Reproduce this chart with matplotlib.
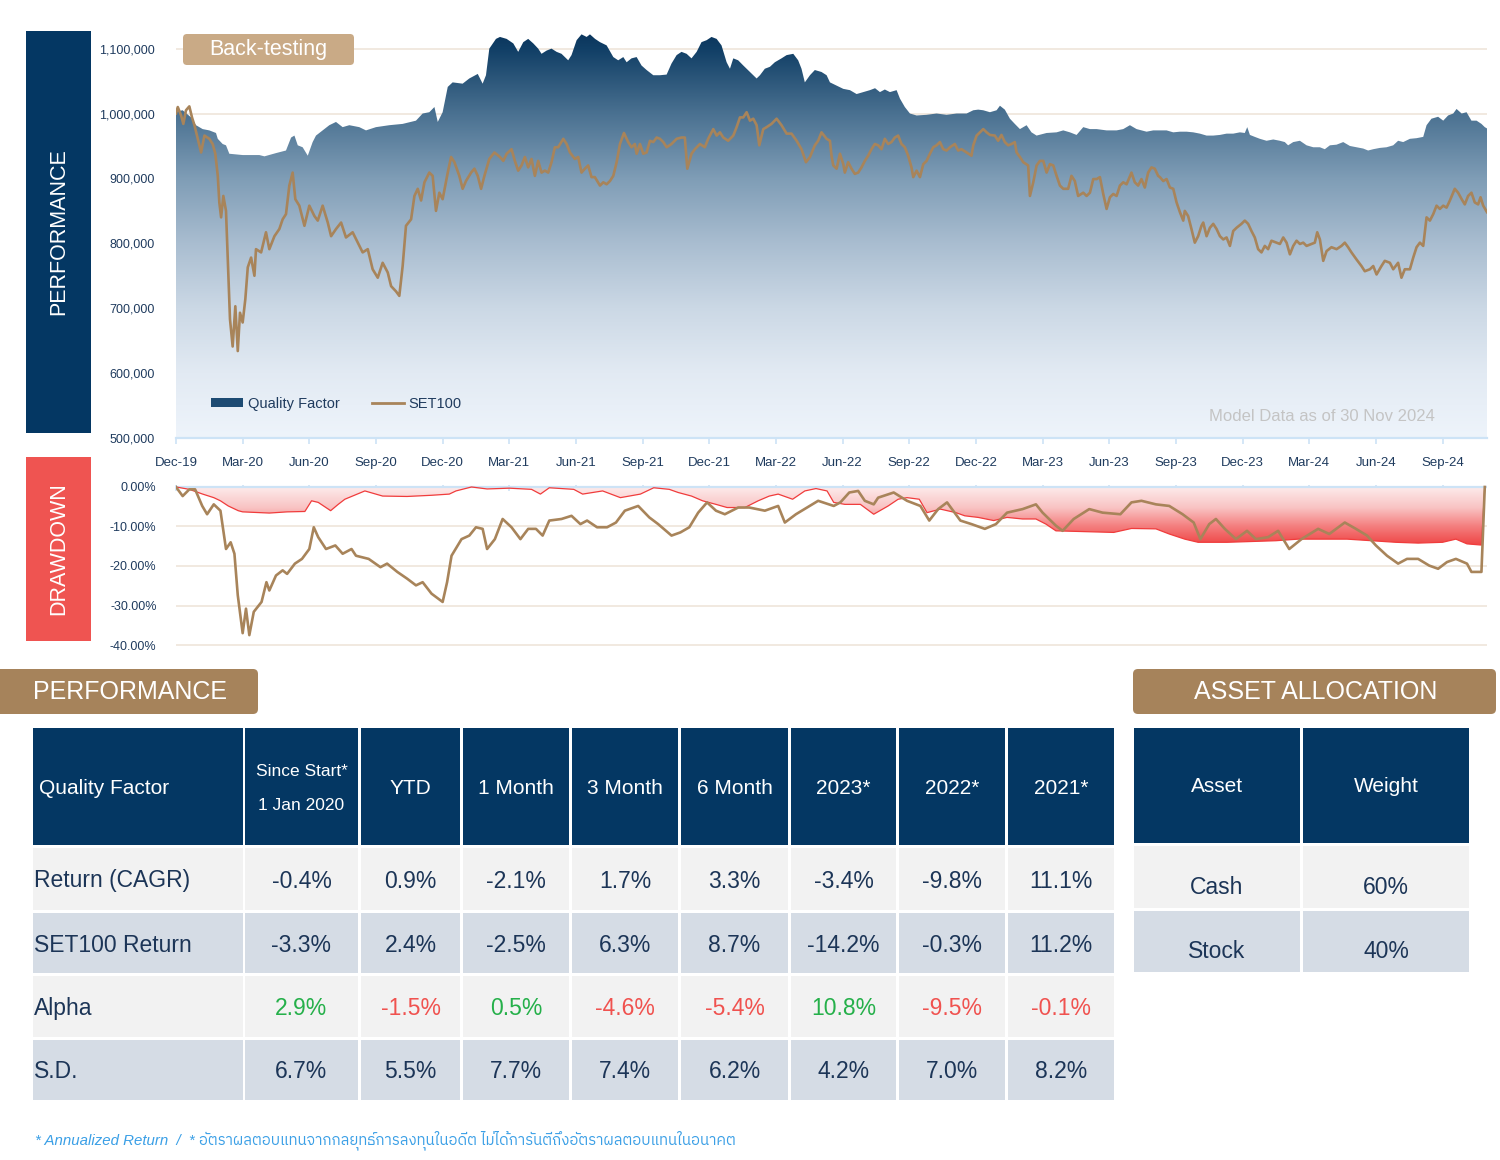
import numpy as np
import matplotlib
matplotlib.use("Agg")
import matplotlib.pyplot as plt
from matplotlib import font_manager as fm
from matplotlib.colors import LinearSegmentedColormap
from matplotlib.patches import Rectangle, FancyBboxPatch, Patch
from matplotlib.lines import Line2D
from matplotlib.ticker import FuncFormatter

# ---------------- fonts ----------------
names = {f.name for f in fm.fontManager.ttflist}
BASE = 'Liberation Sans' if 'Liberation Sans' in names else 'DejaVu Sans'
THAI = None
for f in fm.fontManager.ttflist:
    if 'thai' in f.name.lower():
        THAI = f.name
        break
if THAI is None:
    try:
        from matplotlib.ft2font import FT2Font
        for f in fm.fontManager.ttflist:
            if 'CJK' in f.name:
                continue
            try:
                if 0x0E2D in FT2Font(f.fname).get_charmap():
                    THAI = f.name
                    break
            except Exception:
                pass
    except Exception:
        pass
plt.rcParams['font.family'] = [BASE, 'DejaVu Sans']

# ---------------- data ----------------
tick_labels = ["Dec-19", "Mar-20", "Jun-20", "Sep-20", "Dec-20", "Mar-21", "Jun-21",
               "Sep-21", "Dec-21", "Mar-22", "Jun-22", "Sep-22", "Dec-22", "Mar-23",
               "Jun-23", "Sep-23", "Dec-23", "Mar-24", "Jun-24", "Sep-24"]

# x = months since end of Dec-2019; values in thousand THB
qf_month = [
    0, 0.3, 0.68, 0.9, 1.2, 1.5, 1.8, 1.88, 2.1, 2.25, 2.4, 3.0, 3.75, 3.98, 4.5, 4.95, 5.18,
    5.33, 5.48, 5.7, 5.93, 6.15, 6.3, 6.6, 6.9, 7.2, 7.5, 7.8, 8.25, 8.55, 9.0, 9.6, 10.2, 10.8,
    11.1, 11.4, 11.63, 11.78, 12.0, 12.23, 12.45, 12.9, 13.2, 13.58, 13.8, 13.95, 14.1, 14.4,
    14.58, 14.88, 15.18, 15.4, 15.63, 15.85, 16.08, 16.3, 16.45, 16.68, 16.9, 17.13, 17.35,
    17.65, 17.8, 18.03, 18.25, 18.48, 18.63, 18.86, 19.08, 19.38, 19.68, 19.9, 20.13, 20.28,
    20.5, 20.73, 20.95, 21.18, 21.48, 21.78, 22.08, 22.3, 22.53, 22.75, 22.98, 23.2, 23.43,
    23.65, 23.88, 24.1, 24.33, 24.55, 24.78, 24.93, 25.08, 25.3, 25.53, 25.83, 26.13, 26.28,
    26.5, 26.73, 26.95, 27.25, 27.48, 27.78, 28.0, 28.15, 28.3, 28.53, 28.75, 29.05, 29.28,
    29.43, 29.73, 30.03, 30.33, 30.63, 30.93, 31.23, 31.46, 31.68, 31.9, 32.13, 32.43, 32.58,
    32.8, 33.03, 33.33, 33.78, 34.23, 34.68, 35.13, 35.58, 35.88, 36.1, 36.33, 36.63, 36.93,
    37.08, 37.3, 37.53, 37.75, 37.98, 38.28, 38.5, 38.73, 39.18, 39.63, 39.93, 40.23, 40.53,
    40.83, 41.13, 41.43, 41.88, 42.33, 42.63, 42.93, 43.23, 43.68, 43.98, 44.28,
    44.58, 44.88, 45.18, 45.48, 45.78, 46.08, 46.38, 46.68, 46.98, 47.28, 47.58, 47.88, 48.1,
    48.21, 48.33, 48.55, 48.78, 49.08, 49.38, 49.68, 49.9, 50.05, 50.28, 50.58, 50.88, 51.18,
    51.48, 51.7, 51.93, 52.23, 52.53, 52.83, 53.13, 53.43, 53.65, 53.88, 54.18, 54.48, 54.78,
    55.0, 55.23, 55.53, 55.83, 56.13, 56.28, 56.5, 56.8, 57.03, 57.25, 57.48, 57.63, 57.86,
    58.08, 58.3, 58.53, 58.75, 58.9, 59.0]
qf_value = [
    1003, 1005, 994, 982, 976, 974, 970, 961, 953, 951, 938, 936, 936, 934, 939, 943, 963,
    966, 951, 948, 935, 956, 966, 974, 982, 987, 979, 982, 979, 974, 979, 982, 984, 989,
    1000, 1002, 1010, 987, 1002, 1041, 1048, 1046, 1054, 1061, 1046, 1059, 1100, 1115,
    1118, 1115, 1108, 1095, 1110, 1115, 1108, 1100, 1092, 1097, 1100, 1095, 1092,
    1082, 1090, 1113, 1122, 1118, 1122, 1115, 1110, 1105, 1087, 1082, 1087, 1079,
    1085, 1087, 1074, 1067, 1059, 1059, 1060, 1077, 1090, 1095, 1092, 1085, 1095,
    1110, 1113, 1118, 1115, 1105, 1079, 1069, 1085, 1082, 1074, 1064, 1054, 1059,
    1069, 1072, 1079, 1085, 1090, 1092, 1082, 1069, 1048, 1059, 1067, 1064, 1059,
    1048, 1043, 1038, 1036, 1030, 1033, 1036, 1039, 1033, 1037, 1033, 1036, 1023,
    1010, 1000, 997, 998, 1000, 998, 1000, 1000, 1005, 1006, 1005, 1002, 1005,
    1012, 1006, 992, 984, 976, 982, 971, 966, 970, 971, 974, 971, 967,
    979, 976, 976, 974, 974, 976, 982, 976, 972, 974, 974,
    974, 971, 972, 972, 971, 969, 966, 966, 967, 969, 969, 971, 970,
    979, 967, 964, 961, 958, 960, 958, 956, 951, 956, 958, 951, 948,
    948, 945, 951, 952, 956, 950, 948, 946, 943, 945, 947, 948, 951,
    958, 956, 961, 962, 964, 982, 992, 995, 989, 997, 1000, 1007, 1000,
    1002, 989, 989, 984, 979, 977]

set_month = [
    0, 0.08, 0.23, 0.33, 0.45, 0.6, 0.72, 0.83, 0.98, 1.13, 1.28, 1.5, 1.65, 1.77, 1.88, 1.95,
    2.03, 2.13, 2.25, 2.33, 2.43, 2.55, 2.67, 2.78, 2.88, 3.0, 3.12, 3.23, 3.38, 3.53, 3.6,
    3.83, 4.05, 4.2, 4.43, 4.65, 4.8, 4.95, 5.1, 5.25, 5.37, 5.55, 5.78, 6.0, 6.23, 6.38, 6.6,
    6.83, 6.98, 7.2, 7.43, 7.65, 7.95, 8.18, 8.4, 8.63, 8.85, 9.08, 9.3, 9.53, 9.68, 9.9,
    10.05, 10.2, 10.35, 10.58, 10.73, 10.88, 11.03, 11.18, 11.4, 11.55, 11.7, 11.85, 12.0,
    12.23, 12.38, 12.53, 12.75, 12.9, 13.05, 13.28, 13.43, 13.58, 13.73, 13.88, 14.1, 14.33,
    14.58, 14.73, 14.88, 15.1, 15.25, 15.4, 15.55, 15.7, 15.85, 16.0, 16.15, 16.3, 16.45,
    16.6, 16.75, 16.9, 17.05, 17.2, 17.43, 17.58, 17.73, 17.95, 18.1, 18.25, 18.4, 18.55,
    18.7, 18.85, 19.08, 19.23, 19.38, 19.53, 19.68, 19.83, 19.98, 20.16, 20.35, 20.5, 20.65,
    20.73, 20.88, 21.03, 21.18, 21.33, 21.48, 21.63, 21.78, 21.93, 22.08, 22.3, 22.53, 22.75,
    22.9, 23.01, 23.2, 23.35, 23.58, 23.8, 23.95, 24.18, 24.33, 24.48, 24.63, 24.85, 25.08,
    25.23, 25.38, 25.53, 25.68, 25.83, 25.98, 26.13, 26.25, 26.43, 26.58, 26.8, 27.03, 27.25,
    27.48, 27.7, 27.93, 28.15, 28.35, 28.53, 28.75, 28.9, 29.05, 29.28,
    29.43, 29.5, 29.58, 29.73, 29.88, 30.03, 30.1, 30.25, 30.4, 30.55, 30.7, 30.85, 31.0,
    31.15, 31.3, 31.45, 31.6, 31.75, 31.9, 32.05, 32.2, 32.35, 32.5, 32.65, 32.8, 32.95, 33.1,
    33.18, 33.33, 33.48, 33.63, 33.78, 33.93, 34.08, 34.23, 34.38, 34.53, 34.68, 34.83, 35.05,
    35.2, 35.35, 35.58, 35.8, 35.88, 36.03, 36.18, 36.33, 36.48, 36.63, 36.85, 37.0, 37.15,
    37.3, 37.45, 37.6, 37.75, 37.83, 37.98, 38.13, 38.35, 38.43, 38.58, 38.73, 38.88, 39.03,
    39.18, 39.33, 39.48, 39.63, 39.78, 39.93, 40.15, 40.3, 40.45, 40.6, 40.83, 40.98, 41.13,
    41.28, 41.43, 41.58, 41.73, 41.88, 42.03, 42.18, 42.33, 42.48, 42.63, 42.78, 43.0, 43.15,
    43.3, 43.45, 43.6, 43.75, 43.9, 44.05, 44.2,
    44.28, 44.43, 44.58, 44.73, 44.88, 45.03, 45.18, 45.33, 45.4, 45.55, 45.7, 45.85, 46.0,
    46.15, 46.23, 46.38, 46.53, 46.68, 46.83, 46.98, 47.13, 47.28, 47.43, 47.58, 47.73, 47.95,
    48.1, 48.25, 48.4, 48.55, 48.7, 48.85, 49.0, 49.15, 49.3, 49.53, 49.68, 49.83, 49.98,
    50.13, 50.28, 50.43, 50.58, 50.73, 50.88, 51.1, 51.25, 51.36, 51.48, 51.63, 51.78, 52.0,
    52.23, 52.45, 52.6, 52.75, 52.9, 53.13, 53.35, 53.5, 53.73, 53.88, 54.03, 54.25, 54.4,
    54.63, 54.78, 55.0, 55.15, 55.3, 55.53, 55.68, 55.83, 55.98, 56.13, 56.28, 56.43, 56.58,
    56.73, 56.88, 57.03, 57.18, 57.33, 57.55, 57.7, 57.86, 58.0, 58.15, 58.3, 58.45, 58.6,
    58.71, 58.83, 59.0]
set_value = [
    1000, 1010, 997, 984, 1005, 1011, 994, 982, 961, 940, 966, 961, 953, 938, 904, 863,
    840, 873, 850, 775, 683, 641, 703, 634, 693, 678, 714, 763, 778, 750, 791,
    786, 817, 791, 811, 822, 837, 845, 889, 909, 868, 858, 827, 858, 842, 835, 858,
    832, 811, 822, 832, 809, 817, 801, 786, 791, 760, 747, 770, 755, 734, 726,
    719, 765, 827, 837, 873, 884, 866, 894, 909, 904, 850, 878, 868,
    909, 933, 925, 904, 884, 896, 909, 915, 904, 884, 904, 930, 940,
    933, 927, 938, 945, 927, 912, 920, 933, 917, 930, 904, 927, 909,
    912, 909, 925, 948, 948, 961, 953, 940, 930, 933, 909, 915, 920,
    902, 902, 889, 894, 891, 896, 904, 925, 953, 970, 956, 948, 953,
    938, 953, 938, 940, 958, 956, 963, 961, 956, 948, 953, 961, 963,
    963, 915, 938, 945, 953, 948, 961, 976, 966, 971, 963, 958, 966,
    979, 994, 994, 1002, 989, 992, 982, 951, 976, 979, 984, 992, 982,
    969, 969, 958, 945, 925, 933, 951, 958, 971, 961,
    958, 935, 920, 915, 938, 922, 909, 925, 915, 907, 909, 917, 927,
    935, 945, 953, 951, 945, 961, 953, 956, 963, 966, 953, 948, 935, 917,
    902, 912, 902, 922, 927, 938, 948, 951, 956, 945, 943, 948, 953,
    943, 945, 940, 935, 951, 966, 971, 976, 971, 967, 966, 958, 967,
    956, 951, 953, 956, 940, 933, 925, 920, 873, 894, 920, 927, 927,
    909, 922, 920, 904, 889, 884, 884, 904, 896, 873, 878, 873, 878,
    899, 899, 902, 876, 853, 871, 876, 873, 889, 894, 891, 909, 894,
    889, 899, 886, 909, 917, 915, 904,
    902, 896, 899, 886, 884, 863, 848, 835, 850, 842, 822, 801, 811,
    827, 832, 811, 824, 830, 822, 811, 806, 809, 796, 819, 824, 830,
    835, 830, 819, 809, 791, 786, 796, 791, 804, 801, 799, 809, 801,
    783, 796, 804, 799, 801, 796, 799, 801, 817, 806, 773, 788, 794,
    791, 796, 801, 794, 786, 775, 765, 757, 760, 765, 752, 765, 773,
    770, 760, 770, 747, 760, 760, 778, 794, 801, 796, 840, 835, 845,
    858, 853, 858, 855, 866, 884, 878, 868, 860, 873, 878, 863, 860,
    871, 858, 848]

dd_qf_month = [0, 0.6, 1.2, 1.7, 2.0, 2.35, 2.8, 3.0, 4.2, 5.0, 5.8, 6.1, 6.4, 6.96, 7.3, 7.6,
               8.5, 9.3, 10.4, 11.5, 12.3, 12.6, 13.3, 14.0, 15.0, 16.0, 16.4, 16.8, 17.9,
               18.3, 19.2, 20.0, 20.9, 21.5, 22.2, 22.6, 23.2, 23.7, 24.3, 24.8, 25.6, 26.2,
               26.7, 27.1, 27.75, 28.3, 28.8, 29.3, 29.6, 30.1, 30.8, 31.4, 32.05, 32.5, 32.9,
               33.45, 33.8, 34.4, 35.1, 35.5, 36.1, 36.8, 37.4, 38.1, 38.7, 39.15, 39.6, 40.9,
               42.2, 43.0, 44.1, 44.7, 45.4, 46.0, 47.3, 48.4, 49.5, 50.5, 51.6, 52.7, 53.8,
               54.9, 55.9, 57.0, 57.6, 58.1, 58.75, 58.9]
dd_qf_value = [0, -0.6, -1.8, -2.7, -3.5, -4.8, -6.0, -6.3, -6.6, -6.3, -6.2, -3.5, -3.9, -6.0,
               -4.4, -3.1, -1.0, -2.3, -2.4, -2.1, -1.8, -1.0, 0, -0.5, -0.3, -0.6, -1.8, -0.2,
               -0.6, -1.8, -1.0, -2.7, -1.8, -0.2, -0.6, -1.4, -2.3, -3.5, -4.4, -5.2, -5.2,
               -3.5, -2.3, -1.8, -3.1, -1.0, -0.4, -1.0, -3.9, -4.4, -4.4, -6.9, -4.8, -3.1,
               -2.7, -3.1, -6.5, -5.6, -6.5, -7.3, -7.7, -8.5, -7.7, -8.1, -8.1, -9.4, -11.1,
               -11.3, -11.5, -10.5, -10.6, -11.9, -13.2, -14.0, -14.0, -13.8, -13.6, -13.2,
               -13.2, -13.2, -13.6, -14.0, -14.2, -14.0, -13.2, -14.4, -14.7, 0]

dd_set_month = [0, 0.3, 0.6, 0.86, 1.18, 1.4, 1.7, 2.0, 2.25, 2.46, 2.63, 2.78, 3.0, 3.15, 3.3,
                3.5, 3.85, 4.07, 4.2, 4.5, 4.8, 5.0, 5.35, 5.67, 6.0, 6.2, 6.4, 6.75, 7.17, 7.5,
                7.9, 8.1, 8.67, 9.2, 9.5, 9.96, 10.4, 10.8, 11.1, 11.5, 12.0, 12.2, 12.4,
                12.85, 13.2, 13.5, 13.8, 14.0, 14.35, 14.7, 15.1, 15.5, 15.85, 16.2, 16.5,
                16.8, 17.35, 17.8, 18.2, 18.5, 18.95, 19.4, 19.8, 20.2, 20.8, 21.3, 21.7,
                22.3, 22.7, 23.1, 23.5, 23.9, 24.3, 24.7, 25.3, 25.8, 26.5, 27.1, 27.4, 27.9,
                28.4, 28.9, 29.6, 29.9, 30.3, 30.7, 31.0, 31.4, 31.6, 32.3, 32.9, 33.5, 33.9,
                34.3, 34.7, 35.3, 35.8, 36.4, 36.9, 37.4, 38.1, 38.7, 39.0, 39.6, 39.9, 40.4,
                41.1, 41.7, 42.5, 43.0, 43.45, 44.1, 44.7, 45.3, 45.8, 46.1, 46.5, 46.8, 47.2,
                47.7, 48.2, 48.6, 49.15, 49.6, 50.1, 50.65, 51.4, 51.9, 52.6, 53.1, 53.6, 54.0,
                54.5, 55.0, 55.4, 55.9, 56.4, 56.8, 57.2, 57.6, 58.1, 58.3, 58.75, 58.9]
dd_set_value = [0, -2.3, -0.6, -0.6, -4.8, -6.9, -4.4, -6.0, -15.7, -14.0, -16.9, -27.4, -37.0,
                -30.8, -37.5, -31.6, -29.1, -24.1, -26.2, -22.4, -21.1, -22.0, -19.4, -18.2,
                -15.7, -10.2, -12.7, -15.7, -14.8, -16.9, -15.7, -17.4, -18.2, -20.3, -19.4,
                -21.5, -23.2, -24.9, -24.1, -27.0, -29.1, -24.1, -17.4, -13.2, -12.3, -10.2,
                -10.6, -15.7, -13.2, -8.1, -10.2, -13.2, -10.6, -10.6, -12.3, -8.5, -8.1, -7.3,
                -9.4, -8.5, -10.2, -10.2, -9.0, -6.0, -4.8, -7.7, -9.4, -12.3, -11.5, -10.2,
                -6.5, -3.9, -6.0, -6.9, -5.2, -5.2, -6.0, -4.8, -9.0, -6.9, -5.2, -3.5, -4.8,
                -3.9, -1.4, -1.0, -3.5, -4.4, -2.7, -1.4, -3.5, -4.8, -8.5, -5.6, -3.9, -8.5,
                -9.4, -10.6, -9.4, -6.5, -5.6, -4.4, -6.5, -9.8, -11.1, -8.1, -5.6, -6.5, -6.9,
                -3.9, -3.5, -4.4, -4.8, -6.9, -9.0, -13.2, -9.4, -8.1, -10.6, -13.2, -11.1,
                -13.2, -12.7, -11.1, -15.7, -13.2, -10.6, -11.9, -9.0, -10.6, -12.3, -14.8,
                -17.4, -19.4, -18.2, -18.2, -19.9, -20.7, -19.0, -18.2, -19.4, -21.5, -21.5, 0]

perf_header = ["Quality Factor", "Since Start*\n1 Jan 2020", "YTD", "1 Month", "3 Month",
               "6 Month", "2023*", "2022*", "2021*"]
perf_rows = ["Return (CAGR)", "SET100 Return", "Alpha", "S.D."]
ret_cagr = [-0.4, 0.9, -2.1, 1.7, 3.3, -3.4, -9.8, 11.1]
set100_ret = [-3.3, 2.4, -2.5, 6.3, 8.7, -14.2, -0.3, 11.2]
alpha = [2.9, -1.5, 0.5, -4.6, -5.4, 10.8, -9.5, -0.1]
std_dev = [6.7, 5.5, 7.7, 7.4, 6.2, 4.2, 7.0, 8.2]

asset_header = ["Asset", "Weight"]
asset_names = ["Cash", "Stock"]
asset_weights = [60, 40]

footnote = ("* Annualized Return  /  * อัตราผลตอบแทนจากกลยุทธ์การลงทุนในอดีต "
            "ไม่ได้การันตีถึงอัตราผลตอบแทนในอนาคต")

# ---------------- style ----------------
NAVY = '#043763'
RED_BOX = '#ef5451'
TAN = '#a6835b'
TAN_LIGHT = '#c9aa86'
BROWN = '#a8845a'
TICK_C = '#1f3b5e'
TXT = '#1c3557'
GREEN = '#25b04a'
NEG = '#f0524f'
ROW_A = '#f2f2f2'
ROW_B = '#d5dce5'
AXIS_BLUE = '#cde3f6'
GRID = '#f0e7dd'

W, H = 1500, 1160
fig = plt.figure(figsize=(W / 100, H / 100), dpi=100)
fig.patch.set_facecolor('white')


def frect(x0, y0, x1, y1):
    return [x0 / W, 1 - y1 / H, (x1 - x0) / W, (y1 - y0) / H]


# ---------------- top performance chart ----------------
X_END = 59.0
ax1 = fig.add_axes(frect(176, 32.4, 1487, 438))
qx = np.array(qf_month)
qy = np.array(qf_value) * 1000.0
sx = np.array(set_month)
sy = np.array(set_value) * 1000.0

blue_cmap = LinearSegmentedColormap.from_list('qf', [
    (0.00, '#eef4fb'), (0.16, '#e2eaf3'), (0.32, '#cbd8e5'), (0.48, '#a9bdd0'),
    (0.64, '#7f9db6'), (0.80, '#4a7191'), (0.96, '#113f66'), (1.00, '#0a355c')])
grad = np.linspace(0, 1, 256).reshape(-1, 1)
poly = ax1.fill_between(qx, qy, 500000, facecolor='none', edgecolor='none')
im = ax1.imshow(grad, extent=[0, X_END, 500000, 1125000], origin='lower', aspect='auto',
                cmap=blue_cmap, zorder=1, interpolation='bilinear')
im.set_clip_path(poly.get_paths()[0], transform=ax1.transData)
ax1.plot(sx, sy, color=BROWN, lw=1.9, zorder=3, solid_joinstyle='round')

ax1.set_xlim(0, X_END)
ax1.set_ylim(500000, 1125000)
ax1.set_yticks(np.arange(500000, 1100001, 100000))
ax1.yaxis.set_major_formatter(FuncFormatter(lambda v, p: f"{int(round(v)):,}"))
ax1.set_xticks(np.arange(0, 58, 3))
ax1.set_xticklabels(tick_labels)
ax1.grid(axis='y', color=GRID, lw=1.3)
ax1.set_axisbelow(True)
for s in ['top', 'left', 'right']:
    ax1.spines[s].set_visible(False)
ax1.spines['bottom'].set_color(AXIS_BLUE)
ax1.spines['bottom'].set_linewidth(1.6)
ax1.tick_params(axis='y', length=0, labelsize=9, labelcolor=TICK_C, pad=15)
ax1.tick_params(axis='x', length=4, width=1.2, color=AXIS_BLUE, labelsize=9.5,
                labelcolor=TICK_C, pad=10)

handles = [Patch(facecolor='#1d4b73', edgecolor='none'),
           Line2D([0], [0], color=BROWN, lw=2)]
leg = ax1.legend(handles, ["Quality Factor", "SET100"], loc='lower left',
                 bbox_to_anchor=(0.017, 0.035), ncol=2, frameon=False, fontsize=10.5,
                 handlelength=2.2, handleheight=0.55, handletextpad=0.3, columnspacing=2.2,
                 labelcolor=TICK_C)
ax1.text(0.874, 0.052, "Model Data as of 30 Nov 2024", transform=ax1.transAxes,
         ha='center', va='center', fontsize=12, color='#c4c4c4', zorder=5)

# ---------------- drawdown chart ----------------
ax2 = fig.add_axes(frect(176, 485.4, 1487, 646.2))
dqx = np.array(dd_qf_month)
dqy = np.array(dd_qf_value)
dsx = np.array(dd_set_month)
dsy = np.array(dd_set_value)

red_cmap = LinearSegmentedColormap.from_list('dd', [
    (0.00, '#ee3c3c'), (0.35, '#f47e7e'), (0.65, '#f9c3c3'), (1.00, '#fdeded')])
poly2 = ax2.fill_between(dqx, dqy, 0, facecolor='none', edgecolor='none')
im2 = ax2.imshow(grad, extent=[0, X_END, -15.5, 0], origin='lower', aspect='auto',
                 cmap=red_cmap, zorder=1, interpolation='bilinear')
im2.set_clip_path(poly2.get_paths()[0], transform=ax2.transData)
ax2.plot(dqx, dqy, color='#f03c3c', lw=0.9, zorder=3)
ax2.plot(dsx, dsy, color=BROWN, lw=1.9, zorder=4, solid_joinstyle='round')
ax2.axhline(0, color=AXIS_BLUE, lw=1.6, zorder=2)

ax2.set_xlim(0, X_END)
ax2.set_ylim(-40.3, 0.4)
ax2.set_yticks([0, -10, -20, -30, -40])
ax2.yaxis.set_major_formatter(FuncFormatter(lambda v, p: f"{v:.2f}%".replace("-0.00", "0.00")))
ax2.grid(axis='y', color=GRID, lw=1.3)
ax2.set_axisbelow(True)
for s in ['top', 'left', 'right', 'bottom']:
    ax2.spines[s].set_visible(False)
ax2.set_xticks(np.arange(0, 58, 3))
ax2.xaxis.tick_top()
ax2.tick_params(axis='x', direction='in', length=4, width=1.2, color=AXIS_BLUE,
                labeltop=False, labelbottom=False)
ax2.tick_params(axis='y', length=0, labelsize=9, labelcolor=TICK_C, pad=14)

# ---------------- overlay: boxes, banners, tables ----------------
ov = fig.add_axes([0, 0, 1, 1], zorder=10)
ov.set_xlim(0, W)
ov.set_ylim(H, 0)
ov.axis('off')
ov.patch.set_alpha(0)

# side labels
ov.add_patch(Rectangle((26, 31), 65, 402, facecolor=NAVY, edgecolor='none'))
ov.text(58.5, 232, "PERFORMANCE", rotation=90, ha='center', va='center', color='white',
        fontsize=15.5)
ov.add_patch(Rectangle((26, 457), 65, 184, facecolor=RED_BOX, edgecolor='none'))
ov.text(58.5, 549, "DRAWDOWN", rotation=90, ha='center', va='center', color='white',
        fontsize=15.5)

# back-testing tag
ov.add_patch(FancyBboxPatch((183, 34), 171, 31, boxstyle="round,pad=0,rounding_size=4",
                            facecolor=TAN_LIGHT, edgecolor='none'))
ov.text(268, 50, "Back-testing", ha='center', va='center', color='white', fontsize=15.5)

# banners
ov.add_patch(FancyBboxPatch((-10, 669), 268, 45, boxstyle="round,pad=0,rounding_size=5",
                            facecolor=TAN, edgecolor='none'))
ov.text(33, 692, "PERFORMANCE", ha='left', va='center', color='white', fontsize=18)
ov.add_patch(FancyBboxPatch((1133, 669), 363, 45, boxstyle="round,pad=0,rounding_size=5",
                            facecolor=TAN, edgecolor='none'))
ov.text(1316, 692, "ASSET ALLOCATION", ha='center', va='center', color='white', fontsize=18)

# performance table
col_x = [33, 245, 361, 463, 572, 681, 791, 899, 1008]
col_w = [210, 113, 99, 106, 106, 107, 105, 106, 106]
row_y = [848, 913, 976, 1040]
row_h = [62, 60, 61, 60]
row_bg = [ROW_A, ROW_B, ROW_A, ROW_B]
HDR_Y, HDR_H = 728, 117

for j, (x0, w) in enumerate(zip(col_x, col_w)):
    ov.add_patch(Rectangle((x0, HDR_Y), w, HDR_H, facecolor=NAVY, edgecolor='none'))
    lab = perf_header[j]
    if j == 0:
        ov.text(x0 + 6, HDR_Y + HDR_H / 2 + 2, lab, ha='left', va='center', color='white',
                fontsize=15)
    elif '\n' in lab:
        l1, l2 = lab.split('\n')
        ov.text(x0 + w / 2, HDR_Y + 44, l1, ha='center', va='center', color='white',
                fontsize=12.5)
        ov.text(x0 + w / 2, HDR_Y + 78, l2, ha='center', va='center', color='white',
                fontsize=12.5)
    else:
        ov.text(x0 + w / 2, HDR_Y + HDR_H / 2 + 2, lab, ha='center', va='center',
                color='white', fontsize=15)

table_vals = [ret_cagr, set100_ret, alpha, std_dev]
for i, (y0, h) in enumerate(zip(row_y, row_h)):
    for j, (x0, w) in enumerate(zip(col_x, col_w)):
        ov.add_patch(Rectangle((x0, y0), w, h, facecolor=row_bg[i], edgecolor='none'))
    ov.text(col_x[0] + 1, y0 + h / 2 + 2, perf_rows[i], ha='left', va='center', color=TXT,
            fontsize=16.5)
    for j, v in enumerate(table_vals[i]):
        color = TXT
        if perf_rows[i] == "Alpha":
            color = GREEN if v >= 0 else NEG
        x0, w = col_x[j + 1], col_w[j + 1]
        ov.text(x0 + w / 2, y0 + h / 2 + 2, f"{v:.1f}%", ha='center', va='center',
                color=color, fontsize=16.5)

# asset allocation table
a_x = [1134, 1303]
a_w = [166, 166]
for j in range(2):
    ov.add_patch(Rectangle((a_x[j], 728), a_w[j], 115, facecolor=NAVY, edgecolor='none'))
    ov.text(a_x[j] + a_w[j] / 2, 787, asset_header[j], ha='center', va='center',
            color='white', fontsize=15)
a_row_y = [846, 911]
a_row_h = [62, 61]
for i in range(2):
    for j in range(2):
        ov.add_patch(Rectangle((a_x[j], a_row_y[i]), a_w[j], a_row_h[i],
                               facecolor=row_bg[i], edgecolor='none'))
    yc = a_row_y[i] + a_row_h[i] / 2 + 10
    ov.text(a_x[0] + a_w[0] / 2, yc, asset_names[i], ha='center', va='center', color=TXT,
            fontsize=16.5)
    ov.text(a_x[1] + a_w[1] / 2, yc, f"{asset_weights[i]}%", ha='center', va='center',
            color=TXT, fontsize=16.5)

# footnote
fam = [BASE, THAI, 'DejaVu Sans'] if THAI else [BASE, 'DejaVu Sans']
ov.text(35, 1140, footnote, ha='left', va='center', color='#3a9fe6', fontsize=10.8,
        style='italic', family=fam)

fig.savefig("out.png", dpi=100, facecolor='white')
